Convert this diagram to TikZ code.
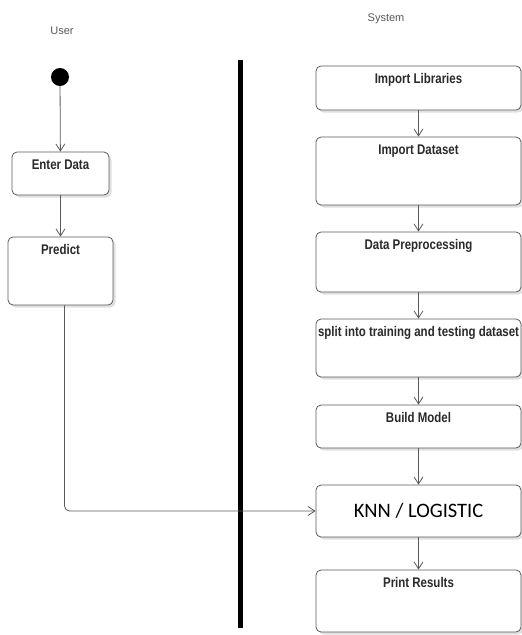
\documentclass[tikz,border=0pt]{standalone}
\usepackage{fontspec}
\setmainfont{Liberation Sans}
\newfontfamily\boxfont[FakeStretch=0.82]{Liberation Sans Bold}
\newfontfamily\bigfont{Carlito}
\usetikzlibrary{arrows.meta,shadows}
\definecolor{edge}{HTML}{5A5A5A}
\definecolor{ink}{HTML}{2A2A2A}
\tikzset{
  actbox/.style={draw=edge, line width=0.8pt, rounded corners=5pt, fill=white,
    drop shadow={shadow xshift=2.5pt, shadow yshift=-2.5pt, fill=black!12, opacity=1},
    inner sep=0pt},
  boxlabel/.style={anchor=north, inner sep=0pt, yshift=-8pt, font=\boxfont\fontsize{14}{16}\selectfont, text=ink},
  flow/.style={draw=edge, line width=0.8pt, -{Straight Barb[length=7pt,width=9pt,line width=0.8pt]}},
  lanehead/.style={font=\fontsize{11}{13}\selectfont, text=black!65}
}
\newcommand{\actnode}[6]{% name, cx, cy, w, h, text
  \node[actbox, minimum width=#4pt, minimum height=#5pt,
        label={[boxlabel]north:#6}] (#1) at (#2,#3) {};}
\begin{document}
\begin{tikzpicture}[x=1pt, y=-1pt]
\useasboundingbox (0,0) rectangle (522,635);

% swimlane headings
\node[lanehead] (user) at (62,31) {User};
\node[lanehead] (system) at (386,19) {System};

% lane divider
\coordinate (divtop) at (240,60);
\coordinate (divbot) at (240,628);
\draw[line width=5pt] (divtop) -- (divbot);

% user lane
\node[circle, fill=black, minimum size=18pt, inner sep=0pt] (start) at (60,77) {};
\actnode{enter}{60.5}{173.5}{97}{43}{Enter Data}
\actnode{predict}{60.5}{271}{105}{68}{Predict}

% system lane
\actnode{libs}{418.5}{88}{205}{44}{Import Libraries}
\actnode{dataset}{418.5}{171}{205}{68}{Import Dataset}
\actnode{prep}{418.5}{262}{205}{60}{Data Preprocessing}
\actnode{split}{418.5}{348}{205}{58}{split into training and testing dataset}
\actnode{build}{418.5}{426.5}{205}{43}{Build Model}
\node[actbox, minimum width=205pt, minimum height=52pt,
      font=\bigfont\fontsize{20.5}{24}\selectfont, text=black] (knn) at (418.5,511) {KNN / LOGISTIC};
\actnode{print}{418.5}{601}{205}{62}{Print Results}

% control flow
\draw[flow] (start) -- (enter);
\draw[flow] (enter) -- (predict);
\draw[flow] (libs) -- (dataset);
\draw[flow] (dataset) -- (prep);
\draw[flow] (prep) -- (split);
\draw[flow] (split) -- (build);
\draw[flow] (build) -- (knn);
\draw[flow] (knn) -- (print);
\draw[flow, rounded corners=5pt] ([xshift=4pt]predict.south) |- (knn.west);
\end{tikzpicture}
\end{document}
